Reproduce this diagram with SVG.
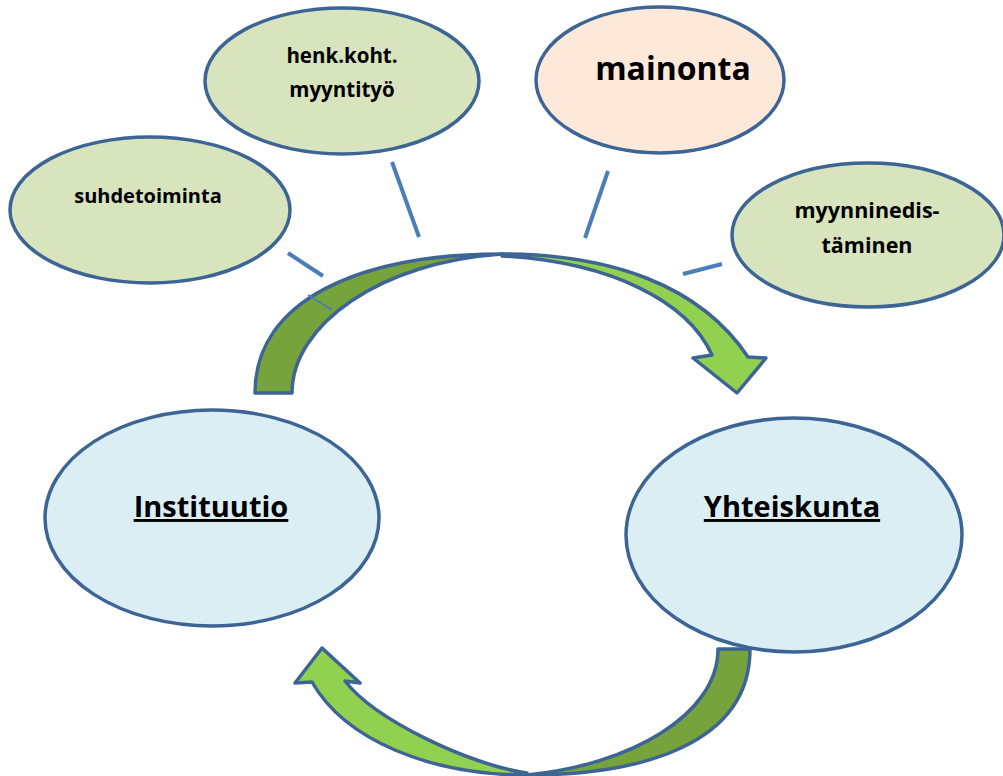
<svg xmlns="http://www.w3.org/2000/svg" width="1003" height="776" viewBox="0 0 1003 776">
<style>
.node{stroke:#3c6494;stroke-width:3.5}
.green{fill:#d7e4bd}
.peach{fill:#fde9d9}
.blue{fill:#dbeef4}
.t{font-family:"Open Sans","Liberation Sans",sans-serif;font-weight:bold;fill:#000;text-anchor:middle}
.conn{stroke:#4a7ebb;stroke-width:4;fill:none}
.thin{stroke:#4a7ebb;stroke-width:1.5;fill:none}
.arr{stroke:#3c6494;stroke-width:3.5;stroke-linejoin:round}
.back{fill:#77a33c}
.front{fill:#92d050}
</style>
<rect width="1003" height="776" fill="#ffffff"/>
<g id="arrows">
<g id="arrow-top">
<path class="arr back" d="M255,393 C255,300 360,254 502,254 C380,262 292,325 292,393 Z"/>
<path class="arr front" d="M502,254 C610,254 700,285 748,357 L766,358 L737,393 L693,358 L712,355 C688,302 612,262 502,256 Z"/>
</g>
<g id="arrow-bottom">
<path class="arr back" d="M718,649 L750,649 C750,745 640,775 527,775 C630,765 718,715 718,649 Z"/>
<path class="arr front" d="M527,775 C430,775 345,740 312,682 L295,683 L322,648 L360,683 L345,681 C375,720 470,765 527,773 Z"/>
</g>
</g>
<g id="connectors">
<line class="conn" x1="288" y1="253" x2="323" y2="276"/>
<line class="thin" x1="308" y1="295" x2="332" y2="310"/>
<line class="conn" x1="392" y1="162" x2="419" y2="237"/>
<line class="conn" x1="608" y1="171" x2="585" y2="238"/>
<line class="conn" x1="683" y1="274" x2="722" y2="264"/>
</g>
<g id="node-suhdetoiminta">
<ellipse class="node green" cx="150" cy="210" rx="140" ry="73"/>
<text class="t" x="148" y="203" font-size="20">suhdetoiminta</text>
</g>
<g id="node-henk">
<ellipse class="node green" cx="342" cy="81" rx="137" ry="73"/>
<text class="t" x="342" y="63" font-size="20.5">henk.koht.</text>
<text class="t" x="342" y="97" font-size="20.5">myyntityö</text>
</g>
<g id="node-mainonta">
<ellipse class="node peach" cx="660" cy="80" rx="124" ry="73"/>
<text class="t" x="673" y="80" font-size="32">mainonta</text>
</g>
<g id="node-myynninedistaminen">
<ellipse class="node green" cx="868" cy="235" rx="136" ry="72"/>
<text class="t" x="867" y="218" font-size="21.5">myynninedis-</text>
<text class="t" x="867" y="253" font-size="21.5">täminen</text>
</g>
<g id="node-instituutio">
<ellipse class="node blue" cx="212" cy="518" rx="167" ry="108"/>
<text class="t" x="211" y="517" font-size="29" text-decoration="underline">Instituutio</text>
</g>
<g id="node-yhteiskunta">
<ellipse class="node blue" cx="794" cy="535" rx="168" ry="117"/>
<text class="t" x="792" y="517" font-size="29" text-decoration="underline">Yhteiskunta</text>
</g>
</svg>
